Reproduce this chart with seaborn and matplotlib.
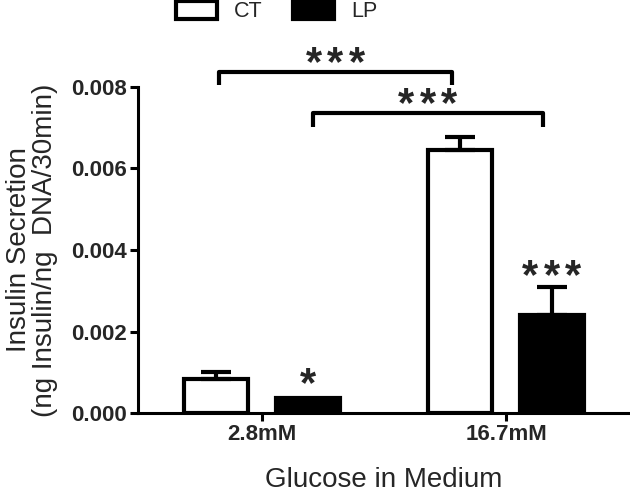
import numpy as np
import pandas as pd
import matplotlib
matplotlib.use("Agg")
import matplotlib.pyplot as plt
import seaborn as sns
from matplotlib.patches import Patch

# datos
glucosa = ["2.8mM", "16.7mM"]
grupos = ["CT", "LP"]
media_ct = [0.00083, 0.00645]
media_lp = [0.00037, 0.00240]
err_ct = [0.00017, 0.00032]
err_lp = [0.0, 0.00070]
yticks = [0.000, 0.002, 0.004, 0.006, 0.008]

df = pd.DataFrame({
    "glucosa": glucosa * 2,
    "grupo": ["CT"] * 2 + ["LP"] * 2,
    "valor": media_ct + media_lp,
})
errores = {"CT": err_ct, "LP": err_lp}

sns.set_style("ticks")
plt.rcParams["font.family"] = ["Liberation Sans", "DejaVu Sans"]

fig = plt.figure(figsize=(6.3, 4.92), dpi=100)
ax = fig.add_axes([138 / 630, 79 / 492, 492 / 630, 326 / 492])

sns.barplot(data=df, x="glucosa", y="valor", hue="grupo", order=glucosa,
            hue_order=grupos, palette={"CT": "white", "LP": "black"},
            edgecolor="black", linewidth=3, width=0.75, gap=0.3,
            errorbar=None, legend=False, ax=ax)

# centros de las barras, por grupo
centros = {}
for g, cont in zip(grupos, ax.containers):
    xs = [p.get_x() + p.get_width() / 2 for p in cont]
    hs = [p.get_height() for p in cont]
    centros[g] = (xs, hs)
    for x, h, e in zip(xs, hs, errores[g]):
        if e > 0:
            ax.errorbar(x, h, yerr=[[0], [e]], fmt="none", ecolor="black",
                        elinewidth=3, capsize=11, capthick=3, zorder=3)

ax.set_ylim(0, 0.008)
ax.set_xlim(-0.508, 1.508)
ax.set_yticks(yticks)
ax.set_yticklabels([f"{t:.3f}" for t in yticks])
for lab in ax.get_xticklabels() + ax.get_yticklabels():
    lab.set_fontweight("bold")
    lab.set_fontsize(16)
ax.tick_params(axis="both", width=2.2, length=6, color="black", pad=2)
for s in ["left", "bottom"]:
    ax.spines[s].set_linewidth(2.2)
    ax.spines[s].set_color("black")
sns.despine(ax=ax)

ax.set_xlabel("Glucose in Medium", fontsize=20, va="center")
ax.xaxis.set_label_coords(0.5, (413 - 480) / 326)
ax.set_ylabel("Insulin Secretion\n(ng Insulin/ng  DNA/30min)", fontsize=20,
              va="center", linespacing=1.0)
ax.yaxis.set_label_coords(-0.215, 0.5)


def estrellas(x, y, n, dy):
    # asteriscos separados como en el original
    for k in range(n):
        dx = (k - (n - 1) / 2) * 15.5
        ax.annotate("*", xy=(x, y), xytext=(dx, dy),
                    textcoords="offset points", ha="center", va="baseline",
                    fontsize=30, fontweight="bold", annotation_clip=False)


# corchetes de significancia
def corchete(x1, x2, y, pata, n):
    ax.plot([x1, x1, x2, x2], [y - pata, y, y, y - pata], color="black",
            lw=3, clip_on=False, solid_capstyle="butt")
    estrellas((x1 + x2) / 2, y, n, -2)


xs_ct, hs_ct = centros["CT"]
xs_lp, hs_lp = centros["LP"]
corchete(xs_ct[0] + 0.01, xs_ct[1] - 0.035, 0.00837, 0.00032, 3)
corchete(xs_lp[0] + 0.02, xs_lp[1] - 0.035, 0.00736, 0.00034, 3)

estrellas(xs_lp[1], hs_lp[1] + err_lp[1], 3, -1)
estrellas(xs_lp[0], hs_lp[0], 1, 1)

manijas = [Patch(facecolor="white", edgecolor="black", linewidth=3, label="CT"),
           Patch(facecolor="black", edgecolor="black", linewidth=3, label="LP")]
fig.legend(handles=manijas, loc="upper left", bbox_to_anchor=(176 / 630, 0.998),
           ncol=2, frameon=False, fontsize=15.5, handlelength=1.9,
           handleheight=0.9, handletextpad=0.8, columnspacing=1.4,
           borderpad=0, borderaxespad=0)

fig.savefig("out.png", dpi=100)
